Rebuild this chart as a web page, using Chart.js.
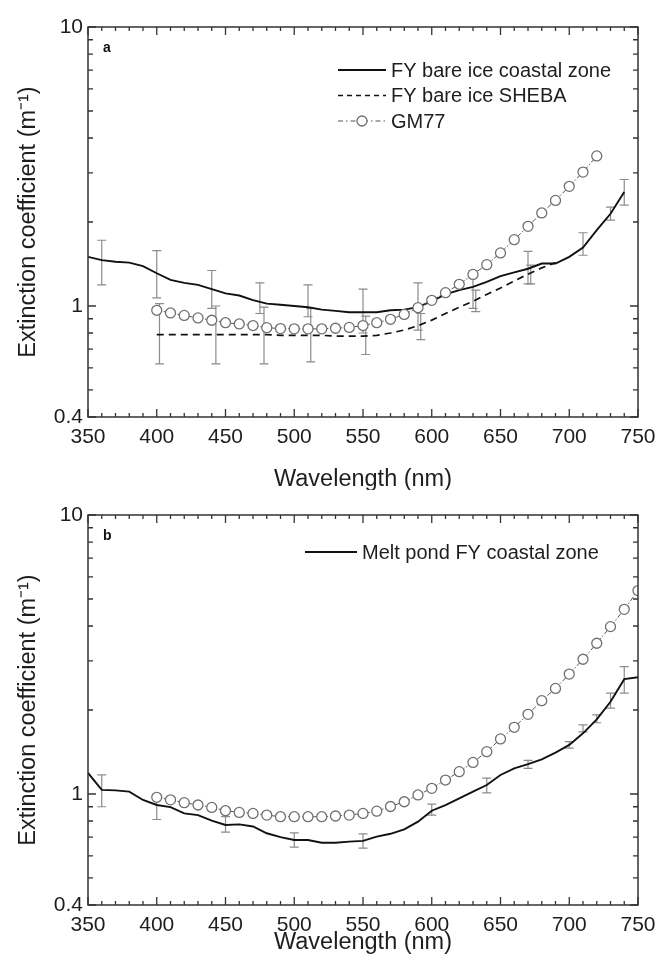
<!DOCTYPE html>
<html><head><meta charset="utf-8">
<script src="https://cdn.jsdelivr.net/npm/chart.js@4.4.1/dist/chart.umd.min.js"></script>
<style>
body{margin:0;background:#fff;width:656px;height:962px;overflow:hidden}
#ca{position:absolute;left:0;top:0}
#cb{position:absolute;left:0;top:490px}
</style></head>
<body>
<canvas id="ca" width="656" height="490"></canvas>
<canvas id="cb" width="656" height="472"></canvas>
<script>
// ---------- DATA: panel a ----------
const wavelengthA = [350,360,370,380,390,400,410,420,430,440,450,460,470,480,490,500,510,520,530,540,550,560,570,580,590,600,610,620,630,640,650,660,670,680,690,700,710,720,730,740];
const coastalA = [1.50,1.46,1.44,1.43,1.39,1.31,1.24,1.21,1.19,1.15,1.11,1.09,1.05,1.02,1.01,1.00,0.99,0.97,0.96,0.95,0.95,0.95,0.965,0.97,0.99,1.04,1.10,1.14,1.17,1.22,1.28,1.32,1.36,1.42,1.42,1.50,1.62,1.87,2.14,2.56];
const wavelengthSheba = [400,410,420,430,440,450,460,470,480,490,500,510,520,530,540,550,560,570,580,590,600,610,620,630,640,650,660,670,680,690];
const shebaA = [0.79,0.79,0.79,0.79,0.79,0.79,0.79,0.79,0.79,0.785,0.785,0.785,0.785,0.78,0.78,0.78,0.785,0.80,0.82,0.85,0.89,0.94,0.99,1.04,1.10,1.16,1.23,1.30,1.37,1.43];
const wavelengthGmA = [400,410,420,430,440,450,460,470,480,490,500,510,520,530,540,550,560,570,580,590,600,610,620,630,640,650,660,670,680,690,700,710,720];
const gm77A = [0.965,0.944,0.925,0.906,0.889,0.871,0.862,0.851,0.836,0.830,0.828,0.828,0.828,0.832,0.838,0.851,0.871,0.896,0.933,0.986,1.048,1.116,1.196,1.298,1.406,1.55,1.729,1.93,2.155,2.39,2.685,3.02,3.45];
const coastalErrWlA = [360,400,440,475,510,550,590,630,670,710,730,740];
const coastalErrLoA = [1.19,1.07,0.98,0.94,0.915,0.80,0.82,0.98,1.20,1.52,2.03,2.30];
const coastalErrHiA = [1.72,1.58,1.34,1.21,1.19,1.15,1.21,1.34,1.57,1.83,2.26,2.84];
const shebaErrWl = [402,443,478,512,552,592,632,672];
const shebaErrLo = [0.62,0.62,0.62,0.63,0.67,0.757,0.955,1.20];
const shebaErrHi = [1.02,1.00,0.99,0.98,0.92,0.94,1.14,1.40];
// ---------- DATA: panel b ----------
const wavelengthB = [350,360,370,380,390,400,410,420,430,440,450,460,470,480,490,500,510,520,530,540,550,560,570,580,590,600,610,620,630,640,650,660,670,680,690,700,710,720,730,740,750];
const meltPondB = [1.19,1.034,1.03,1.02,0.952,0.913,0.897,0.852,0.84,0.802,0.774,0.778,0.765,0.723,0.70,0.684,0.684,0.669,0.669,0.675,0.679,0.703,0.72,0.747,0.796,0.871,0.913,0.965,1.02,1.077,1.17,1.236,1.28,1.33,1.406,1.50,1.65,1.85,2.14,2.58,2.62];
const wavelengthGmB = [400,410,420,430,440,450,460,470,480,490,500,510,520,530,540,550,560,570,580,590,600,610,620,630,640,650,660,670,680,690,700,710,720,730,740,750];
const gm77B = [0.973,0.953,0.931,0.913,0.895,0.871,0.859,0.852,0.84,0.829,0.829,0.829,0.829,0.834,0.84,0.852,0.868,0.902,0.938,0.992,1.048,1.122,1.202,1.298,1.418,1.575,1.734,1.93,2.16,2.39,2.69,3.04,3.47,3.98,4.59,5.36];
const meltErrWl = [360,400,450,500,550,600,640,670,700,710,720,730,740];
const meltErrLo = [0.90,0.81,0.73,0.645,0.64,0.84,1.01,1.236,1.46,1.67,1.80,2.03,2.30];
const meltErrHi = [1.17,0.96,0.83,0.726,0.72,0.92,1.14,1.32,1.54,1.77,1.92,2.30,2.86];
// ---------- axis ticks ----------
const xMajorTicks = [350,400,450,500,550,600,650,700,750];
const xMinorTicks = [360,370,380,390,410,420,430,440,460,470,480,490,510,520,530,540,560,570,580,590,610,620,630,640,660,670,680,690,710,720,730,740];
const yLabelTicks = [0.4,1,10];
const yMinorTicks = [0.5,0.6,0.7,0.8,0.9,2,3,4,5,6,7,8,9];
const legendA = ['FY bare ice coastal zone','FY bare ice SHEBA','GM77'];
const legendB = ['Melt pond FY coastal zone'];

const FAM = "'Liberation Sans', Arial, sans-serif";
const TICK = 21, TITLE = 23.5, LEG = 20;
const TXT = '#1e1e1e';

function pts(xs, ys){ return xs.map((x,i)=>({x:x,y:ys[i]})); }

function decoPlugin(o){
  return {
    id:'deco',
    beforeDatasetsDraw(chart){
      const ctx=chart.ctx, xs=chart.scales.x, ys=chart.scales.y;
      ctx.save();
      ctx.strokeStyle='#8c8c8c'; ctx.lineWidth=1.2;
      o.errs.forEach(e=>{
        e.wl.forEach((w,i)=>{
          const x=xs.getPixelForValue(w), y1=ys.getPixelForValue(e.lo[i]), y2=ys.getPixelForValue(e.hi[i]);
          ctx.beginPath();
          ctx.moveTo(x,y1); ctx.lineTo(x,y2);
          ctx.moveTo(x-4.5,y1); ctx.lineTo(x+4.5,y1);
          ctx.moveTo(x-4.5,y2); ctx.lineTo(x+4.5,y2);
          ctx.stroke();
        });
      });
      ctx.restore();
    },
    afterDraw(chart){
      const ctx=chart.ctx, a=chart.chartArea, xs=chart.scales.x, ys=chart.scales.y;
      ctx.save();
      ctx.strokeStyle='#333'; ctx.lineWidth=1.5;
      ctx.strokeRect(a.left,a.top,a.right-a.left,a.bottom-a.top);
      ctx.lineWidth=1.3;
      ctx.beginPath();
      const tx=(v,len)=>{const x=xs.getPixelForValue(v); ctx.moveTo(x,a.bottom); ctx.lineTo(x,a.bottom-len); ctx.moveTo(x,a.top); ctx.lineTo(x,a.top+len);};
      const ty=(v,len)=>{const y=ys.getPixelForValue(v); ctx.moveTo(a.left,y); ctx.lineTo(a.left+len,y); ctx.moveTo(a.right,y); ctx.lineTo(a.right-len,y);};
      xMajorTicks.forEach(v=>tx(v,8)); xMinorTicks.forEach(v=>tx(v,4));
      yLabelTicks.forEach(v=>ty(v,8)); yMinorTicks.forEach(v=>ty(v,5));
      ctx.stroke();
      // panel letter
      ctx.fillStyle='#111'; ctx.font='bold 14px '+FAM; ctx.textBaseline='middle'; ctx.textAlign='left';
      ctx.fillText(o.letter, a.left+15, a.top+21);
      // legend
      ctx.font=LEG+'px '+FAM;
      o.legend.forEach((L,i)=>{
        const y=o.legY+i*25.5;
        ctx.save();
        ctx.strokeStyle=L.color; ctx.lineWidth=L.width; ctx.setLineDash(L.dash||[]);
        ctx.beginPath(); ctx.moveTo(o.legX0,y); ctx.lineTo(o.legX1,y); ctx.stroke();
        ctx.restore();
        if(L.circle){
          ctx.save(); ctx.strokeStyle='#707070'; ctx.fillStyle='#fff'; ctx.lineWidth=1.3;
          ctx.beginPath(); ctx.arc((o.legX0+o.legX1)/2,y,5,0,Math.PI*2); ctx.fill(); ctx.stroke(); ctx.restore();
        }
        ctx.fillStyle=TXT; ctx.fillText(L.text, o.legX1+5, y+1);
      });
      ctx.restore();
    }
  };
}

function makeChart(id, datasets, o){
  return new Chart(document.getElementById(id), {
    type:'scatter',
    data:{datasets:datasets},
    options:{
      responsive:false, animation:false, devicePixelRatio:1,
      layout:{padding:{top:o.padTop,right:18,left:0,bottom:0}},
      plugins:{legend:{display:false},tooltip:{enabled:false}},
      scales:{
        x:{type:'linear',min:350,max:750,
           grid:{display:false,drawTicks:false},border:{display:false},
           ticks:{stepSize:50,autoSkip:false,maxRotation:0,padding:8,color:TXT,font:{family:FAM,size:TICK}},
           title:{display:true,text:'Wavelength (nm)',color:TXT,font:{family:FAM,size:TITLE,lineHeight:0.9},padding:{top:0,bottom:o.xTitlePad}},
           afterFit(s){s.height=o.xH; s.paddingLeft=0; s.paddingRight=0;}},
        y:{type:'logarithmic',min:0.4,max:10,
           afterBuildTicks(s){s.ticks=yLabelTicks.map(v=>({value:v}));},
           grid:{display:false,drawTicks:false},border:{display:false},
           ticks:{padding:5,color:TXT,font:{family:FAM,size:TICK},callback:(v)=>String(v)},
           title:{display:true,text:'Extinction coefficient (m\u207B\u00B9)',color:TXT,font:{family:FAM,size:TITLE,lineHeight:0.9},padding:{top:18,bottom:0}},
           afterFit(s){s.width=88; s.paddingTop=0; s.paddingBottom=0;}}
      }
    },
    plugins:[decoPlugin(o)]
  });
}

const solidStyle={showLine:true,borderColor:'#111',borderWidth:1.9,pointRadius:0,tension:0,fill:false};
const gmStyle={showLine:true,borderColor:'#555',borderWidth:1,borderDash:[5,2,1.5,2],pointRadius:5,pointHoverRadius:5,pointBorderColor:'#707070',pointBackgroundColor:'#fff',pointBorderWidth:1.3,tension:0,fill:false};

makeChart('ca',[
  Object.assign({label:legendA[2],data:pts(wavelengthGmA,gm77A),order:0},gmStyle),
  Object.assign({label:legendA[0],data:pts(wavelengthA,coastalA),order:1},solidStyle),
  Object.assign({label:legendA[1],data:pts(wavelengthSheba,shebaA),order:2},solidStyle,{borderDash:[7,5],borderWidth:1.7})
],{padTop:27,xH:73,xTitlePad:0,letter:'a',legX0:338,legX1:386,legY:70,
  errs:[{wl:coastalErrWlA,lo:coastalErrLoA,hi:coastalErrHiA},{wl:shebaErrWl,lo:shebaErrLo,hi:shebaErrHi}],
  legend:[{text:legendA[0],color:'#111',width:1.9},{text:legendA[1],color:'#111',width:1.7,dash:[5,4]},{text:legendA[2],color:'#555',width:1.2,dash:[5,3,1.5,3],circle:true}]});

makeChart('cb',[
  Object.assign({label:'GM77',data:pts(wavelengthGmB,gm77B),order:0},gmStyle),
  Object.assign({label:legendB[0],data:pts(wavelengthB,meltPondB),order:1},solidStyle)
],{padTop:25,xH:57,xTitlePad:9,letter:'b',legX0:305,legX1:357,legY:62,
  errs:[{wl:meltErrWl,lo:meltErrLo,hi:meltErrHi}],
  legend:[{text:legendB[0],color:'#111',width:1.9}]});
</script>
</body></html>
